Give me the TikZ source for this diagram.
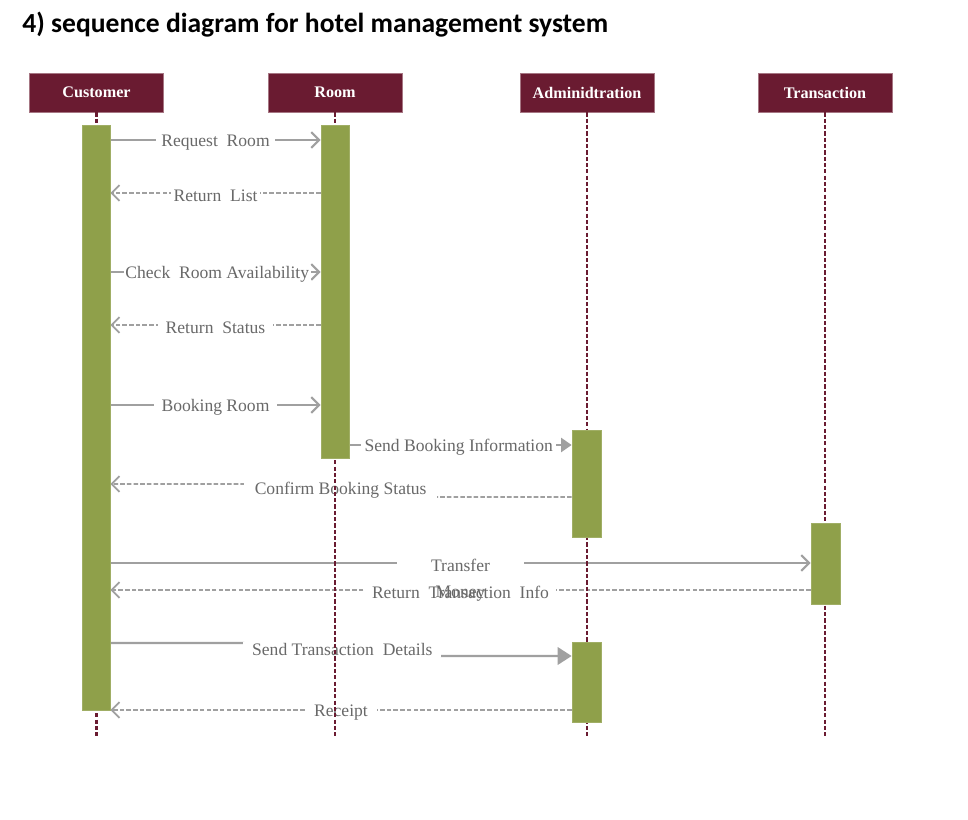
\documentclass[tikz,border=0pt]{standalone}
\usepackage{fontspec}
\setmainfont{Liberation Serif}
\newfontfamily\titulofont{Carlito}
\usetikzlibrary{positioning,arrows.meta,fit}
\definecolor{granate}{RGB}{106,27,49}
\definecolor{oliva}{RGB}{143,160,74}
\definecolor{grislinea}{RGB}{160,160,160}
\definecolor{grisetiqueta}{RGB}{105,105,105}
\pgfdeclarelayer{frente}
\pgfsetlayers{main,frente}

\begin{document}
\begin{tikzpicture}[x=0.02cm, y=-0.02cm,
  cabeza/.style={fill=granate, draw=granate!60!white, text=white, font=\bfseries\fontsize{9.2}{11}\selectfont, minimum width=2.68cm, minimum height=0.78cm, inner sep=0pt},
  activa/.style={fill=oliva, draw=oliva!85!white, inner sep=0pt},
  vida/.style={draw=granate, line width=1.3pt, dash pattern=on 2.4pt off 1.2pt},
  mensaje/.style={draw=grislinea, line width=1.2pt, -{Straight Barb[length=4.5pt,width=9pt]}},
  retorno/.style={mensaje, line width=1pt, dash pattern=on 2.6pt off 1.2pt},
  etiqueta/.style={fill=white, text=grisetiqueta, font=\fontsize{10}{12}\selectfont, inner ysep=1pt, inner xsep=3pt, yshift=-1.5pt}]
  \useasboundingbox (0,0) rectangle (968,820);
  \node[anchor=base west, inner sep=0pt, font=\titulofont\bfseries\fontsize{15.7}{18}\selectfont] (titulo) at (22,33) {4) sequence diagram for hotel management system};
  % cabeceras
  \node[cabeza] (cliente) at (96.5,92.5) {Customer};
  \node[cabeza] (cuarto) at (335,92.5) {Room};
  \node[cabeza] (admin) at (587,92.5) {Adminidtration};
  \node[cabeza] (trans) at (825,92.5) {Transaction};
  \coordinate (fondo) at (0,737);
  % barras de activacion
  \begin{pgfonlayer}{frente}
    \node[activa, fit={(82,125) (110,710)}] (bcliente) {};
    \node[activa, fit={(321,125) (349,458)}] (bcuarto) {};
    \node[activa, fit={(572,430) (601,537)}] (badmin1) {};
    \node[activa, fit={(572,642) (601,722)}] (badmin2) {};
    \node[activa, fit={(811,523) (840,604)}] (btrans) {};
  \end{pgfonlayer}
  % mensajes
  \draw[mensaje] (bcliente.east |- 0,140) -- node[etiqueta]{Request\ \ Room} (bcuarto.west |- 0,140);
  \draw[retorno] (bcuarto.west |- 0,193) -- node[etiqueta, inner xsep=1.5pt]{Return\ \ List} (bcliente.east |- 0,193);
  \draw[mensaje] (bcliente.east |- 0,272) -- node[etiqueta, inner xsep=1pt, xshift=1pt]{Check\ \ Room Availability} (bcuarto.west |- 0,272);
  \draw[retorno] (bcuarto.west |- 0,325) -- node[etiqueta, inner xsep=4.5pt]{Return\ \ Status} (bcliente.east |- 0,325);
  \draw[mensaje] (bcliente.east |- 0,405) -- node[etiqueta, inner xsep=4.5pt]{Booking Room} (bcuarto.west |- 0,405);
  \draw[mensaje, -{Triangle[length=6pt,width=8pt]}] (bcuarto.east |- 0,445) -- node[etiqueta, inner xsep=2pt, xshift=-1pt]{Send Booking Information} (badmin1.west |- 0,445);
  \draw[retorno] (badmin1.west |- 0,497) -- ++(-135,0) -- node[etiqueta, inner xsep=6pt, yshift=1.5pt]{Confirm Booking Status} ++(-192,-13) -- (bcliente.east |- 0,484);
  \draw[retorno] (btrans.west |- 0,590) -- node[etiqueta, inner xsep=4pt]{Return\ \ Transaction\ \ Info} (bcliente.east |- 0,590);
  \draw[mensaje] (bcliente.east |- 0,563) -- node[etiqueta, minimum width=2.56cm, label={[text=grisetiqueta, font=\fontsize{10}{12}\selectfont, inner sep=0pt, yshift=-6pt]below:Money}]{Transfer} (btrans.west |- 0,563);
  \draw[mensaje, -{Triangle[length=8pt,width=10pt]}] (bcliente.east |- 0,643) -- ++(133,0) -- node[etiqueta, inner xsep=5pt, yshift=1.5pt]{Send Transaction\ \ Details} ++(198,13) -- (badmin2.west |- 0,656);
  \draw[retorno] (badmin2.west |- 0,710) -- node[etiqueta, inner xsep=5pt]{Receipt} (bcliente.east |- 0,710);
  % lineas de vida
  \foreach \c in {cliente,cuarto,admin,trans}
    \draw[vida] (\c.south) -- (\c.south |- fondo);
\end{tikzpicture}
\end{document}
